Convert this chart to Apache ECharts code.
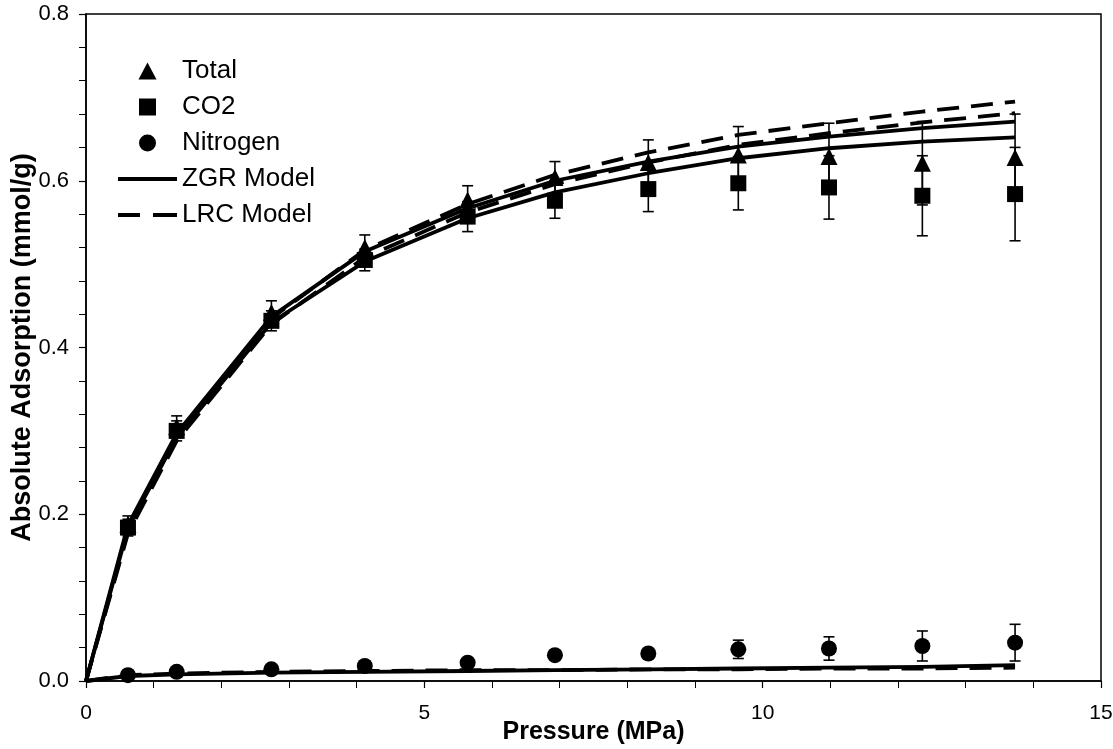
<!DOCTYPE html>
<html>
<head>
<meta charset="utf-8">
<script src="https://cdn.jsdelivr.net/npm/echarts@6/dist/echarts.min.js"></script>
<style>
html,body{margin:0;padding:0;background:#fff;}
#chart{width:1113px;height:749px;}
</style>
</head>
<body>
<div id="chart"></div>
<script>
// ---- Data ----
const pressure = [0.62, 1.34, 2.74, 4.12, 5.64, 6.93, 8.31, 9.64, 10.98, 12.36, 13.73];
const totalAds = [0.188, 0.305, 0.442, 0.520, 0.577, 0.604, 0.622, 0.631, 0.629, 0.621, 0.628];
const totalErr = [0.010, 0.013, 0.014, 0.015, 0.017, 0.019, 0.027, 0.034, 0.040, 0.050, 0.052];
const co2Ads   = [0.184, 0.300, 0.432, 0.505, 0.557, 0.576, 0.590, 0.597, 0.592, 0.582, 0.584];
const co2Err   = [0.010, 0.012, 0.012, 0.013, 0.018, 0.021, 0.027, 0.032, 0.038, 0.048, 0.056];
const n2Ads    = [0.007, 0.011, 0.014, 0.018, 0.022, 0.031, 0.033, 0.038, 0.039, 0.042, 0.046];
const n2Err    = [0.002, 0.002, 0.002, 0.003, 0.003, 0.003, 0.004, 0.011, 0.014, 0.018, 0.022];

const modelPressure = [0, 0.62, 1.34, 2.74, 4.12, 5.64, 6.93, 8.31, 9.64, 10.98, 12.36, 13.73];
const zgrTotal = [0, 0.187, 0.297, 0.437, 0.515, 0.567, 0.600, 0.623, 0.641, 0.653, 0.663, 0.671];
const zgrCO2   = [0, 0.183, 0.292, 0.430, 0.503, 0.555, 0.586, 0.609, 0.627, 0.639, 0.647, 0.652];
const zgrN2    = [0, 0.006, 0.008, 0.010, 0.011, 0.012, 0.013, 0.014, 0.015, 0.016, 0.017, 0.019];
const lrcTotal = [0, 0.180, 0.292, 0.435, 0.517, 0.572, 0.607, 0.634, 0.655, 0.669, 0.683, 0.695];
const lrcCO2   = [0, 0.177, 0.288, 0.428, 0.508, 0.562, 0.596, 0.622, 0.643, 0.657, 0.670, 0.681];
const lrcN2    = [0, 0.007, 0.009, 0.011, 0.012, 0.013, 0.013, 0.014, 0.014, 0.015, 0.015, 0.016];

const xTicks = [0, 5, 10, 15];
const yTicks = [0.0, 0.2, 0.4, 0.6, 0.8];
const legendNames = ['Total', 'CO2', 'Nitrogen', 'ZGR Model', 'LRC Model'];

// ---- Helpers ----
const FONT = '"Liberation Sans", Arial, sans-serif';
const pairs = (xs, ys) => xs.map((x, i) => [x, ys[i]]);
const errData = (xs, ys, es) => xs.map((x, i) => [x, ys[i] - es[i], ys[i] + es[i]]);

function errRender(params, api) {
  const x = api.value(0);
  const lo = api.coord([x, api.value(1)]);
  const hi = api.coord([x, api.value(2)]);
  const half = 5.5;
  const style = { stroke: '#000', lineWidth: 1.6 };
  return {
    type: 'group',
    children: [
      { type: 'line', shape: { x1: lo[0], y1: lo[1], x2: hi[0], y2: hi[1] }, style },
      { type: 'line', shape: { x1: lo[0] - half, y1: lo[1], x2: lo[0] + half, y2: lo[1] }, style },
      { type: 'line', shape: { x1: hi[0] - half, y1: hi[1], x2: hi[0] + half, y2: hi[1] }, style }
    ]
  };
}

function modelLine(name, ys, dashed) {
  return {
    name: name, type: 'line', data: pairs(modelPressure, ys),
    smooth: false, showSymbol: false, symbol: 'none',
    lineStyle: { color: '#000', width: 3.8, type: dashed ? [22, 12] : 'solid', cap: 'butt', join: 'round' },
    itemStyle: { color: '#000' },
    z: 2, silent: true
  };
}
function errSeries(name, ys, es) {
  return {
    name: name, type: 'custom', renderItem: errRender,
    data: errData(pressure, ys, es), z: 3, silent: true
  };
}
function scatter(name, ys, sym, size) {
  return {
    name: name, type: 'scatter', data: pairs(pressure, ys),
    symbol: sym, symbolSize: size,
    itemStyle: { color: '#000', opacity: 1 }, z: 4, silent: true
  };
}

const legendIcons = {
  'Total': 'path://M5,0 L10,9.4 L0,9.4 Z',
  'CO2': 'path://M0,0 L10,0 L10,10 L0,10 Z',
  'Nitrogen': 'path://M5,0 A5,5 0 1,1 4.999,0 Z',
  'ZGR Model': 'path://M0,0 L59,0 L59,4 L0,4 Z',
  'LRC Model': 'path://M0,0 L22,0 L22,4 L0,4 Z M35,0 L59,0 L59,4 L35,4 Z'
};

const chart = echarts.init(document.getElementById('chart'), null, { renderer: 'canvas' });
chart.setOption({
  backgroundColor: '#fff',
  animation: false,
  textStyle: { fontFamily: FONT },
  grid: { left: 86, right: 12, top: 14, bottom: 68, containLabel: false, outerBoundsMode: 'none',
          show: true, borderColor: '#000', borderWidth: 1.5, backgroundColor: 'transparent' },
  legend: {
    orient: 'vertical', left: 118, top: 58, padding: 0,
    itemWidth: 59, itemHeight: 17, itemGap: 10,
    symbolKeepAspect: true,
    textStyle: { fontSize: 26, color: '#000', fontFamily: FONT },
    data: legendNames.map(n => ({ name: n, icon: legendIcons[n], itemStyle: { color: '#000', opacity: 1 } })),
    selectedMode: false
  },
  xAxis: {
    type: 'value', min: 0, max: 15, interval: 5,
    name: 'Pressure (MPa)', nameLocation: 'middle', nameGap: 39, nameMoveOverlap: false,
    nameTextStyle: { fontSize: 25, fontWeight: 'bold', color: '#000', fontFamily: FONT },
    axisLine: { show: true, onZero: false, lineStyle: { color: '#000', width: 1.5 } },
    axisTick: { show: true, inside: false, length: 7, lineStyle: { color: '#000', width: 1.2 } },
    minorTick: { show: true, splitNumber: 5, length: 7, lineStyle: { color: '#000', width: 1 } },
    axisLabel: { fontSize: 21, color: '#000', margin: 22, fontFamily: FONT,
      formatter: v => (xTicks.includes(v) ? String(v) : '') },
    splitLine: { show: false }
  },
  yAxis: {
    type: 'value', min: 0, max: 0.8, interval: 0.2,
    name: 'Absolute Adsorption (mmol/g)', nameLocation: 'middle', nameGap: 50, nameMoveOverlap: false,
    nameTextStyle: { fontSize: 27, fontWeight: 'bold', color: '#000', fontFamily: FONT },
    axisLine: { show: true, onZero: false, lineStyle: { color: '#000', width: 1.5 } },
    axisTick: { show: true, inside: false, length: 7, lineStyle: { color: '#000', width: 1.2 } },
    minorTick: { show: true, splitNumber: 5, length: 7, lineStyle: { color: '#000', width: 1 } },
    axisLabel: { fontSize: 22, color: '#000', margin: 17, fontFamily: FONT,
      formatter: v => { const t = yTicks.find(k => Math.abs(k - v) < 1e-9); return t === undefined ? '' : t.toFixed(1); } },
    splitLine: { show: false }
  },
  series: [
    modelLine('ZGR Model', zgrTotal, false),
    modelLine('ZGR Model', zgrCO2, false),
    modelLine('ZGR Model', zgrN2, false),
    modelLine('LRC Model', lrcTotal, true),
    modelLine('LRC Model', lrcCO2, true),
    modelLine('LRC Model', lrcN2, true),
    errSeries('Total err', totalAds, totalErr),
    errSeries('CO2 err', co2Ads, co2Err),
    errSeries('N2 err', n2Ads, n2Err),
    scatter('Total', totalAds, 'triangle', 17),
    scatter('CO2', co2Ads, 'rect', 16),
    scatter('Nitrogen', n2Ads, 'circle', 16)
  ]
});
</script>
</body>
</html>
